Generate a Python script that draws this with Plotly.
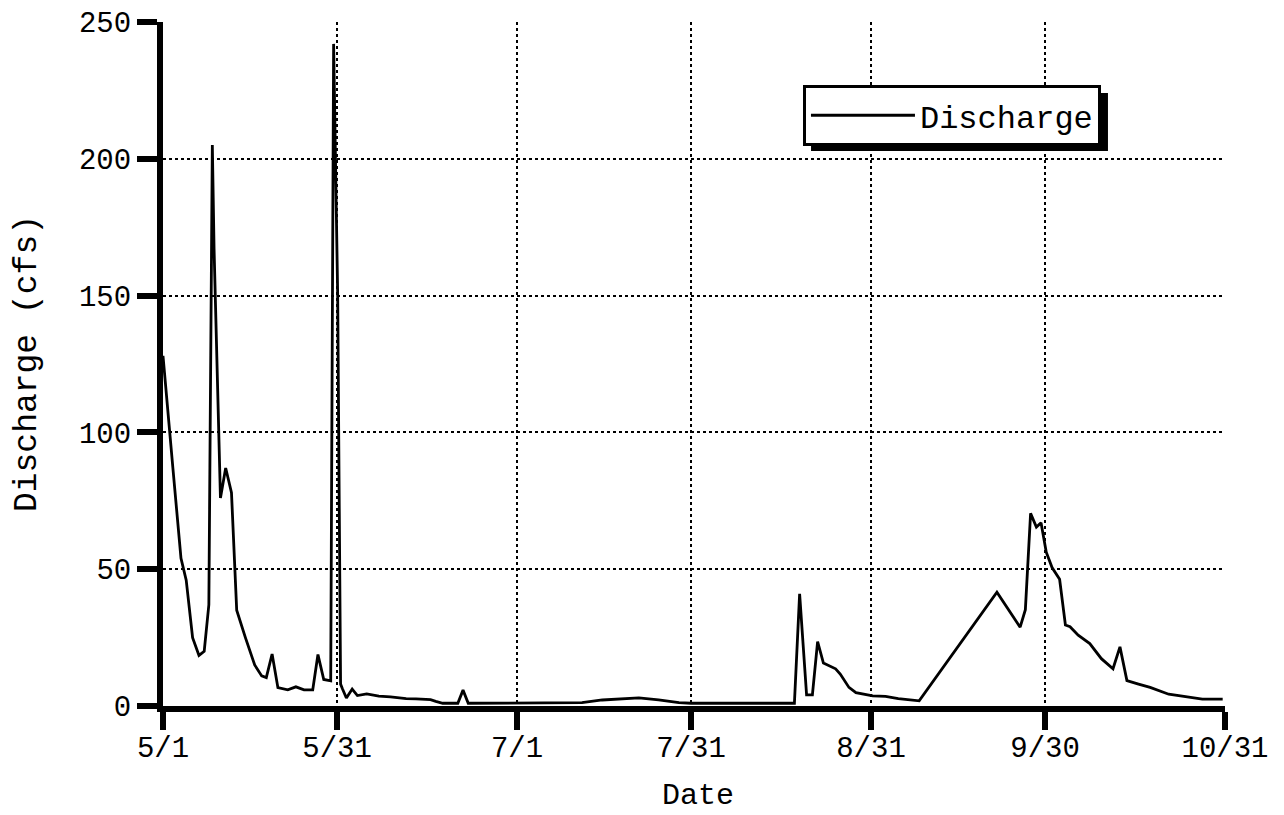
import pandas as pd
import plotly.graph_objects as go

# days after May 1 and the discharge (cfs)
days_since_may1 = [
    0.0, 0.4, 1.7, 3.1, 4.0, 5.1, 6.2, 7.1, 7.9, 8.5, 8.8, 9.9, 10.8, 11.8,
    12.7, 14.2, 15.8, 17.0, 17.8, 18.8, 19.8, 21.5, 22.9, 24.3, 25.8, 26.7,
    27.7, 28.9, 29.4, 30.1, 30.6, 30.9, 31.6, 32.6, 33.5, 35.1, 37.2, 39.2,
    40.4, 41.9, 43.6, 46.1, 47.0, 48.2, 50.8, 51.7, 52.6, 61.0, 72.2, 75.7,
    78.5, 82.0, 85.4, 88.9, 91.0, 108.8, 109.7, 110.9, 111.9, 112.8, 113.8,
    115.9, 116.7, 118.2, 119.4, 122.3, 124.5, 126.7, 130.3, 143.7, 147.7,
    148.6, 149.5, 150.5, 151.3, 152.2, 153.2, 154.5, 155.5, 156.3, 157.7,
    159.7, 161.7, 163.7, 164.9, 166.1, 168.1, 170.1, 173.3, 176.2, 179.1,
    182.6,
]
discharge_cfs = [
    128, 118, 87, 54, 46, 25, 18.5, 20, 37, 205, 167, 76, 87, 78,
    35, 25, 15, 11, 10.4, 19, 6.7, 5.9, 7, 5.9, 5.9, 18.8,
    9.7, 9.2, 242, 150, 8, 6.4, 2.9, 6.2, 3.8, 4.4, 3.6, 3.3,
    3.0, 2.7, 2.6, 2.3, 1.7, 1.0, 1.0, 5.8, 1.0, 1.0, 1.2, 2.2,
    2.6, 3.0, 2.2, 1.2, 1.0, 1.0, 41, 4.1, 4.1, 23.5, 15.7,
    13.6, 11.7, 6.8, 4.9, 3.7, 3.5, 2.7, 1.9, 41.6, 28.8,
    35.2, 70.4, 65.4, 67, 56.2, 50.6, 46.3, 29.6, 29, 25.9,
    22.8, 17.3, 13.6, 21.6, 9.3, 8.0, 6.8, 4.3, 3.3, 2.5,
    2.5,
]

tick_dates = ["2001-05-01", "2001-05-31", "2001-07-01", "2001-07-31",
              "2001-08-31", "2001-09-30", "2001-10-31"]
tick_labels = ["5/1", "5/31", "7/1", "7/31", "8/31", "9/30", "10/31"]
y_ticks = [0, 50, 100, 150, 200, 250]

dates = pd.Timestamp("2001-05-01") + pd.to_timedelta(days_since_may1, unit="D")

FONT = "Liberation Mono, Courier New, monospace"

fig = go.Figure()
fig.add_trace(go.Scatter(x=dates, y=discharge_cfs, mode="lines", name="Discharge",
                         line=dict(color="black", width=2.8)))

# drop shadow behind the legend box
fig.add_shape(type="rect", xref="paper", yref="paper",
              x0=0.6102, x1=0.8898, y0=0.8114, y1=0.8962,
              fillcolor="black", line=dict(width=0), layer="above")

# axis titles placed by hand
fig.add_annotation(text="Date", xref="paper", yref="paper", x=0.504, y=-0.132,
                   xanchor="center", yanchor="middle", showarrow=False,
                   font=dict(size=30))
fig.add_annotation(text="Discharge (cfs)", xref="paper", yref="paper",
                   x=-0.128, y=0.5, xanchor="center", yanchor="middle",
                   textangle=-90, showarrow=False, font=dict(size=33))

# the page body adds an 8px offset, so the figure is sized to fit inside it
fig.update_layout(
    width=1276, height=807,
    margin=dict(l=155, r=59, t=14, b=109),
    paper_bgcolor="white", plot_bgcolor="white",
    font=dict(family=FONT, size=29, color="black"),
    showlegend=True,
    legend=dict(x=0.6026, y=0.908, xanchor="left", yanchor="top",
                bgcolor="white", bordercolor="black", borderwidth=3,
                font=dict(size=32), itemwidth=104),
)

fig.update_xaxes(
    range=[tick_dates[0], tick_dates[-1]], automargin=False,
    tickmode="array", tickvals=tick_dates, ticktext=tick_labels,
    ticks="outside", ticklen=18, tickwidth=6, tickcolor="black",
    ticklabelstandoff=-8,
    showline=True, linewidth=6, linecolor="black",
    showgrid=True, gridcolor="black", gridwidth=2, griddash="dot",
)
fig.update_yaxes(
    range=[0, 250], tickvals=y_ticks, automargin=False,
    ticks="outside", ticklen=20, tickwidth=6, tickcolor="black",
    showline=True, linewidth=6, linecolor="black",
    showgrid=True, gridcolor="black", gridwidth=2, griddash="dot",
    zeroline=False,
)

fig.write_html("out.html")
